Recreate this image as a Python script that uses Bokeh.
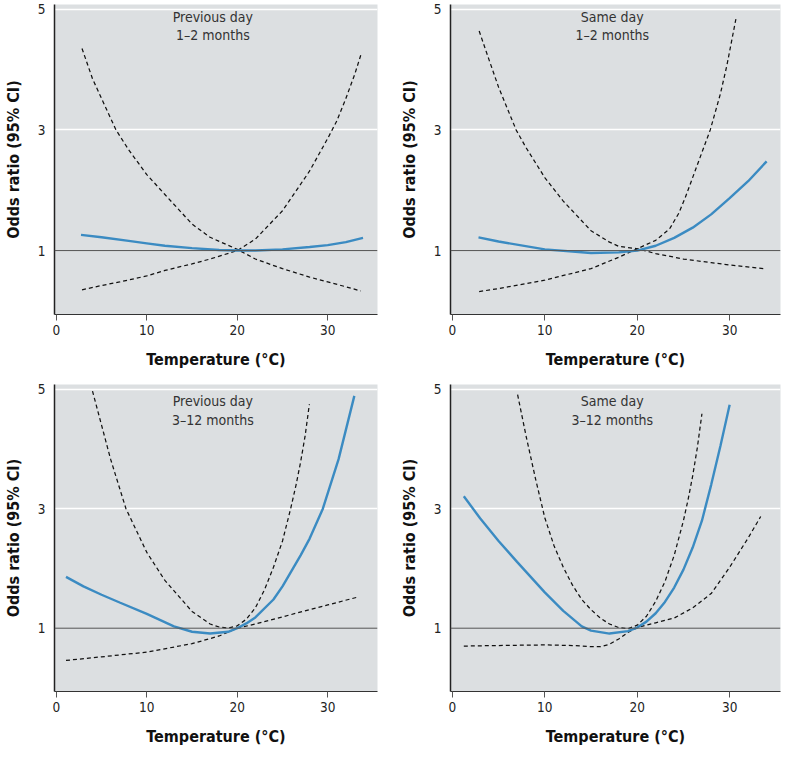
from bokeh.plotting import figure
from bokeh.layouts import gridplot
from bokeh.models import Range1d, FixedTicker, Span, Label
from bokeh.embed import file_html
from bokeh.resources import INLINE

# ---------------- data ----------------
titles = [("Previous day", "1\u20132 months"), ("Same day", "1\u20132 months"),
          ("Previous day", "3\u201312 months"), ("Same day", "3\u201312 months")]

x_ticks = [0, 10, 20, 30]
y_ticks = [1, 3, 5]

# Panel A: previous day, 1-2 months
A_x_or = [2.73, 5, 8, 10, 12, 15, 18, 20, 22, 25, 28, 30, 32, 33.9]
A_or = [1.26, 1.22, 1.16, 1.12, 1.08, 1.04, 1.01, 1.0, 1.0, 1.02, 1.06, 1.09, 1.14, 1.21]
A_x_up = [2.84, 4, 5, 6.6, 8, 10, 12, 15, 17, 20, 22, 25, 28, 30, 32, 33.65]
A_up = [4.35, 3.85, 3.52, 3.0, 2.67, 2.26, 1.93, 1.44, 1.22, 1.02, 0.86, 0.70, 0.56, 0.48, 0.40, 0.33]
A_x_lo = [2.84, 5, 7, 10, 12, 15, 17, 20, 22, 25, 28, 30, 31, 32, 33, 33.65]
A_lo = [0.35, 0.42, 0.48, 0.58, 0.67, 0.78, 0.86, 1.0, 1.19, 1.66, 2.32, 2.86, 3.15, 3.52, 3.93, 4.24]

# Panel B: same day, 1-2 months
B_x_or = [2.83, 5, 10, 15, 18, 20, 22, 24, 26, 28, 30, 32, 34]
B_or = [1.22, 1.15, 1.02, 0.96, 0.97, 1.0, 1.08, 1.21, 1.38, 1.60, 1.87, 2.15, 2.48]
B_x_up = [2.9, 4, 5, 6.9, 8, 10, 12, 15, 17, 18, 20, 22, 25, 28, 30, 33.7]
B_up = [4.64, 4.15, 3.71, 3.0, 2.70, 2.21, 1.82, 1.33, 1.14, 1.07, 1.03, 0.95, 0.86, 0.80, 0.76, 0.70]
B_x_lo = [2.9, 5, 10, 15, 18, 20, 22, 23.5, 24.5, 25.2, 26.5, 27.9, 29, 29.7, 30.7]
B_lo = [0.32, 0.37, 0.51, 0.70, 0.89, 1.03, 1.17, 1.36, 1.62, 1.88, 2.42, 3.0, 3.6, 4.07, 4.86]

# Panel C: previous day, 3-12 months
C_x_or = [1.07, 3, 5, 7, 10, 13, 15, 17, 19, 20, 21, 22, 24, 25, 26, 27, 28, 29.46, 31.2, 32.94]
C_or = [1.86, 1.70, 1.56, 1.43, 1.24, 1.03, 0.94, 0.91, 0.94, 1.0, 1.08, 1.18, 1.48, 1.7, 1.96, 2.22, 2.5, 3.0, 3.83, 4.89]
C_x_up = [4.0, 5, 6, 7.7, 10, 12, 15, 17, 18, 19, 20, 21, 22, 23, 24, 25, 25.9, 26.5, 27, 27.5, 27.97]
C_up = [4.97, 4.40, 3.83, 3.0, 2.27, 1.80, 1.28, 1.07, 1.02, 1.0, 1.04, 1.15, 1.34, 1.64, 2.02, 2.46, 3.0, 3.4, 3.78, 4.22, 4.75]
C_x_lo = [1.07, 5, 10, 15, 18, 20, 22, 25, 30, 33.3]
C_lo = [0.46, 0.52, 0.60, 0.74, 0.87, 1.0, 1.07, 1.19, 1.39, 1.52]

# Panel D: same day, 3-12 months
D_x_or = [1.24, 3, 5, 7, 10, 12, 14, 15, 17, 19, 20, 21, 22, 23, 24, 25, 26, 27, 28, 29, 30]
D_or = [3.21, 2.84, 2.46, 2.11, 1.60, 1.29, 1.03, 0.96, 0.91, 0.95, 1.01, 1.11, 1.25, 1.44, 1.68, 1.98, 2.35, 2.8, 3.4, 4.05, 4.74]
D_x_up = [7.06, 8, 9, 10, 11, 12, 13, 14, 15, 16, 17, 18, 19, 20, 21, 22, 23, 24, 25, 25.5, 26, 26.5, 27.0]
D_up = [4.91, 4.2, 3.5, 2.85, 2.38, 2.02, 1.72, 1.48, 1.31, 1.17, 1.07, 1.01, 0.99, 1.05, 1.2, 1.45, 1.78, 2.22, 2.8, 3.15, 3.55, 4.02, 4.59]
D_x_lo = [1.24, 5, 10, 13, 15, 16, 17, 18, 19, 20, 21, 22, 24, 26, 28, 30, 32, 33.36]
D_lo = [0.70, 0.71, 0.72, 0.71, 0.69, 0.69, 0.73, 0.82, 0.93, 1.01, 1.05, 1.09, 1.17, 1.34, 1.58, 2.02, 2.51, 2.87]

panels = [
    (A_x_or, A_or, A_x_up, A_up, A_x_lo, A_lo),
    (B_x_or, B_or, B_x_up, B_up, B_x_lo, B_lo),
    (C_x_or, C_or, C_x_up, C_up, C_x_lo, C_lo),
    (D_x_or, D_or, D_x_up, D_up, D_x_lo, D_lo),
]

# ---------------- styling ----------------
FONT = "Noto Sans Condensed, DejaVu Sans Condensed, Liberation Sans Narrow, Liberation Sans, sans-serif"
BG = "#dcdfe1"
BLUE = "#3b8bc2"


def make_panel(i):
    row, col = divmod(i, 2)
    x_or, y_or, x_up, y_up, x_lo, y_lo = panels[i]
    p = figure(
        width=392, height=376 if row == 0 else 372,
        x_range=Range1d(-0.2, 35.5), y_range=Range1d(-0.06, 5.08),
        output_backend="svg", toolbar_location=None,
        background_fill_color=BG, border_fill_color="white",
        min_border_left=47 if col == 0 else 58,
        min_border_right=15 if col == 0 else 4,
        min_border_top=4 if row == 0 else 8,
        min_border_bottom=62 if row == 0 else 54,
    )
    p.outline_line_color = None

    # axes
    p.xaxis.ticker = FixedTicker(ticks=x_ticks)
    p.yaxis.ticker = FixedTicker(ticks=y_ticks)
    p.xaxis.axis_label = "Temperature (\u00b0C)"
    p.yaxis.axis_label = "Odds ratio (95% CI)"
    for ax in (p.xaxis, p.yaxis):
        ax.axis_label_text_font = FONT
        ax.axis_label_text_font_style = "bold"
        ax.axis_label_text_font_size = "16px"
        ax.axis_label_text_color = "#111"
        ax.major_label_text_font = FONT
        ax.major_label_text_font_size = "13.5px"
        ax.major_label_text_color = "#222"
        ax.minor_tick_line_color = None
    p.xaxis.axis_line_color = "#333"
    p.xaxis.axis_line_width = 1.2
    p.xaxis.major_tick_line_color = "#555"
    p.xaxis.major_tick_out = 6
    p.xaxis.major_tick_in = 0
    p.xaxis.major_label_standoff = 4
    p.xaxis.axis_label_standoff = 12
    p.yaxis.axis_line_color = "#222"
    p.yaxis.axis_line_width = 1.5
    p.yaxis.major_tick_line_color = None
    p.yaxis.major_tick_out = 0
    p.yaxis.major_tick_in = 0
    p.yaxis.major_label_standoff = 9
    p.yaxis.axis_label_standoff = 12

    # grids
    p.xgrid.grid_line_color = None
    p.ygrid.ticker = FixedTicker(ticks=[3, 5])
    p.ygrid.grid_line_color = "white"
    p.ygrid.grid_line_width = 1.3

    # reference line at OR = 1
    p.add_layout(Span(location=1, dimension="width", line_color="#555", line_width=1))

    # curves
    p.line(x_up, y_up, line_color="#111", line_width=1.25, line_dash="4 3")
    p.line(x_lo, y_lo, line_color="#111", line_width=1.25, line_dash="4 3")
    p.line(x_or, y_or, line_color=BLUE, line_width=2.4)

    # panel title
    t1, t2 = titles[i]
    yy = (4.88, 4.57) if row == 0 else (4.80, 4.49)
    for txt, y in zip((t1, t2), yy):
        p.add_layout(Label(x=17.3, y=y, text=txt, text_align="center", text_baseline="middle",
                           text_font=FONT, text_font_size="14px", text_color="#333"))
    return p


figs = [make_panel(i) for i in range(4)]
grid = gridplot([[figs[0], figs[1]], [figs[2], figs[3]]], toolbar_location=None)

open("out.html", "w").write(file_html(grid, INLINE))
